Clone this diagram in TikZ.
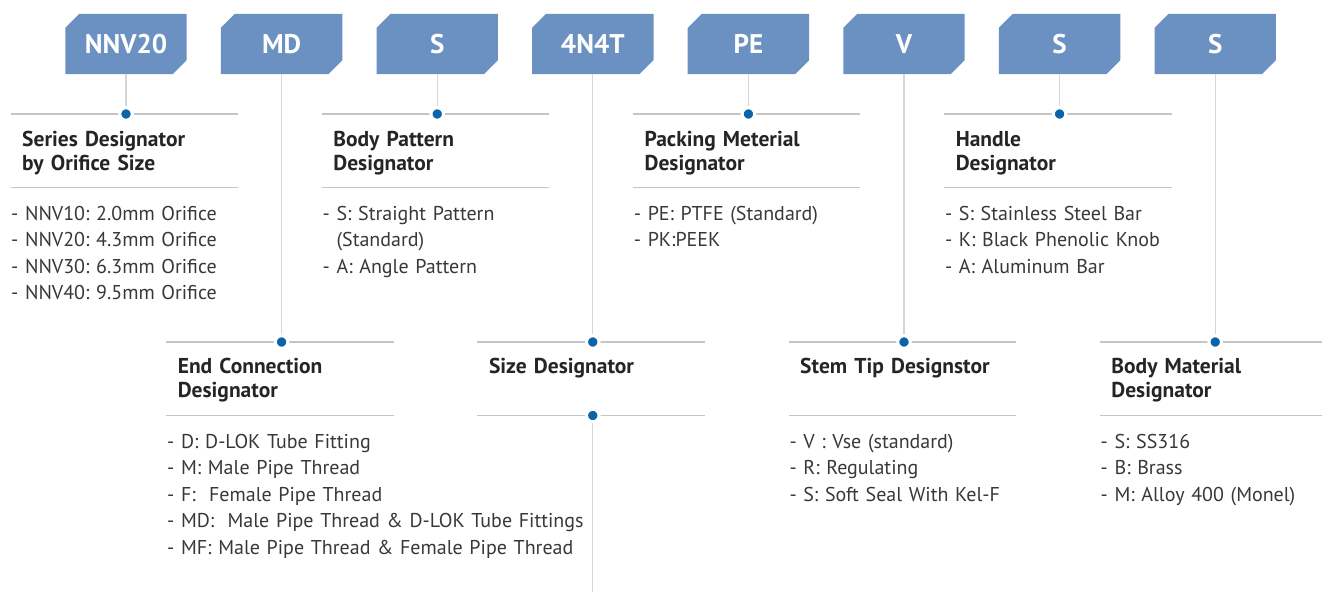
\documentclass[tikz,border=0pt]{standalone}
\usepackage{fontspec}
\setmainfont{PT Sans}
\usetikzlibrary{backgrounds}
\definecolor{boxblue}{HTML}{6B91C3}
\definecolor{dotblue}{HTML}{0A64AA}
\definecolor{hlinec}{HTML}{C5C5C5}
\definecolor{vlinec}{HTML}{D6D6D6}
\definecolor{ttlc}{HTML}{252525}
\definecolor{lstc}{HTML}{383838}
\newcommand\hdrfill[1]{\fill[boxblue] ([xshift=14pt]#1.north west) -- (#1.north east) -- ([yshift=14pt]#1.south east) -- ([xshift=-14pt]#1.south east) -- (#1.south west) -- ([yshift=-14pt]#1.north west) -- cycle;}
\frenchspacing
\begin{document}
\begin{tikzpicture}[x=1pt,y=-1pt,
  hdr/.style={minimum width=121pt, minimum height=60pt, inner sep=0pt, text=white, font=\fontsize{27}{30}\selectfont\bfseries},
  hrule/.style={draw=hlinec, line width=1.3pt},
  vrule/.style={draw=vlinec, line width=1.3pt},
  dotnode/.style={circle, fill=dotblue, draw=white, line width=3pt, minimum size=12.5pt, inner sep=0pt},
  ttlnode/.style={anchor=base west, inner sep=0pt, text width=220pt, align=left, text=ttlc, font=\fontsize{21.5}{23.5}\selectfont\bfseries},
  lstnode/.style={anchor=base west, inner sep=0pt, text width=240pt, align=left, text=lstc, font=\fontsize{20}{26.5}\selectfont}]
\useasboundingbox (0,0) rectangle (1322,592);
% header boxes
\node[hdr] (b1) at (126,44) {NNV20};
\node[hdr] (b2) at (281.6,44) {MD};
\node[hdr] (b3) at (437.2,44) {S};
\node[hdr] (b4) at (592.8,44) {4N4T};
\node[hdr] (b5) at (748.4,44) {PE};
\node[hdr] (b6) at (904,44) {V};
\node[hdr] (b7) at (1059.6,44) {S};
\node[hdr] (b8) at (1215.2,44) {S};
\begin{scope}[on background layer]
\hdrfill{b1}\hdrfill{b2}\hdrfill{b3}\hdrfill{b4}\hdrfill{b5}\hdrfill{b6}\hdrfill{b7}\hdrfill{b8}
\end{scope}
% dot positions
\coordinate (p1) at (126,114);
\coordinate (p2) at (281.6,342);
\coordinate (p3) at (437.2,114);
\coordinate (p4) at (592.8,342);
\coordinate (p4b) at (592.8,415.5);
\coordinate (p4e) at (592.8,592);
\coordinate (p5) at (748.4,114);
\coordinate (p6) at (904,342);
\coordinate (p7) at (1059.6,114);
\coordinate (p8) at (1215.2,342);
% vertical connectors
\draw[vrule] (b1) -- (p1);
\draw[vrule] (b2) -- (p2);
\draw[vrule] (b3) -- (p3);
\draw[vrule] (b4) -- (p4);
\draw[vrule] (p4b) -- (p4e);
\draw[vrule] (b5) -- (p5);
\draw[vrule] (b6) -- (p6);
\draw[vrule] (b7) -- (p7);
\draw[vrule] (b8) -- (p8);
% horizontal rules (upper row)
\foreach \c/\n in {126/a, 437.2/b, 748.4/c, 1059.6/d}{
  \coordinate (t\n l) at (\c-115.5,114);
  \coordinate (t\n r) at (\c+112,114);
  \coordinate (s\n l) at (\c-115.5,187.5);
  \coordinate (s\n r) at (\c+112,187.5);
  \draw[hrule] (t\n l) -- (t\n r);
  \draw[hrule] (s\n l) -- (s\n r);
}
% horizontal rules (lower row)
\foreach \c/\n in {281.6/e, 592.8/f, 904/g, 1215.2/h}{
  \coordinate (t\n l) at (\c-115.5,342);
  \coordinate (t\n r) at (\c+112,342);
  \coordinate (s\n l) at (\c-115.5,415.5);
  \coordinate (s\n r) at (\c+112,415.5);
  \draw[hrule] (t\n l) -- (t\n r);
  \draw[hrule] (s\n l) -- (s\n r);
}
% dots
\node[dotnode] (d1) at (p1) {};
\node[dotnode] (d2) at (p2) {};
\node[dotnode] (d3) at (p3) {};
\node[dotnode] (d4) at (p4) {};
\node[dotnode] (d4b) at (p4b) {};
\node[dotnode] (d5) at (p5) {};
\node[dotnode] (d6) at (p6) {};
\node[dotnode] (d7) at (p7) {};
\node[dotnode] (d8) at (p8) {};
% titles
\node[ttlnode] (ta) at (22,146.5) {Series Designator\\by Orifice Size};
\node[ttlnode] (tb) at (333.2,146.5) {Body Pattern\\Designator};
\node[ttlnode] (tc) at (644.4,146.5) {Packing Meterial\\Designator};
\node[ttlnode] (td) at (955.6,146.5) {Handle\\Designator};
\node[ttlnode] (te) at (177.6,373.5) {End Connection\\Designator};
\node[ttlnode] (tf) at (488.8,373.5) {Size Designator};
\node[ttlnode] (tg) at (800,373.5) {Stem Tip Designstor};
\node[ttlnode] (th) at (1111.2,373.5) {Body Material\\Designator};
% lists
\node[lstnode] (la) at (11,220) {- NNV10: 2.0mm Orifice\\- NNV20: 4.3mm Orifice\\- NNV30: 6.3mm Orifice\\- NNV40: 9.5mm Orifice};
\node[lstnode] (lb) at (322.5,220) {- S: Straight Pattern\\\phantom{- }(Standard)\\- A: Angle Pattern};
\node[lstnode] (lc) at (633.7,220) {- PE: PTFE (Standard)\\- PK:PEEK};
\node[lstnode] (ld) at (944.9,220) {- S: Stainless Steel Bar\\- K: Black Phenolic Knob\\- A: Aluminum Bar};
\node[lstnode, text width=420pt] (le) at (167,448) {- D: D-LOK Tube Fitting\\- M: Male Pipe Thread\\- F:\ \ Female Pipe Thread\\- MD:\ \ Male Pipe Thread \& D-LOK Tube Fittings\\- MF: Male Pipe Thread \& Female Pipe Thread};
\node[lstnode] (lg) at (789.3,448) {- V : Vse (standard)\\- R: Regulating\\- S: Soft Seal With Kel-F};
\node[lstnode] (lh) at (1100.5,448) {- S: SS316\\- B: Brass\\- M: Alloy 400 (Monel)};
\end{tikzpicture}
\end{document}
